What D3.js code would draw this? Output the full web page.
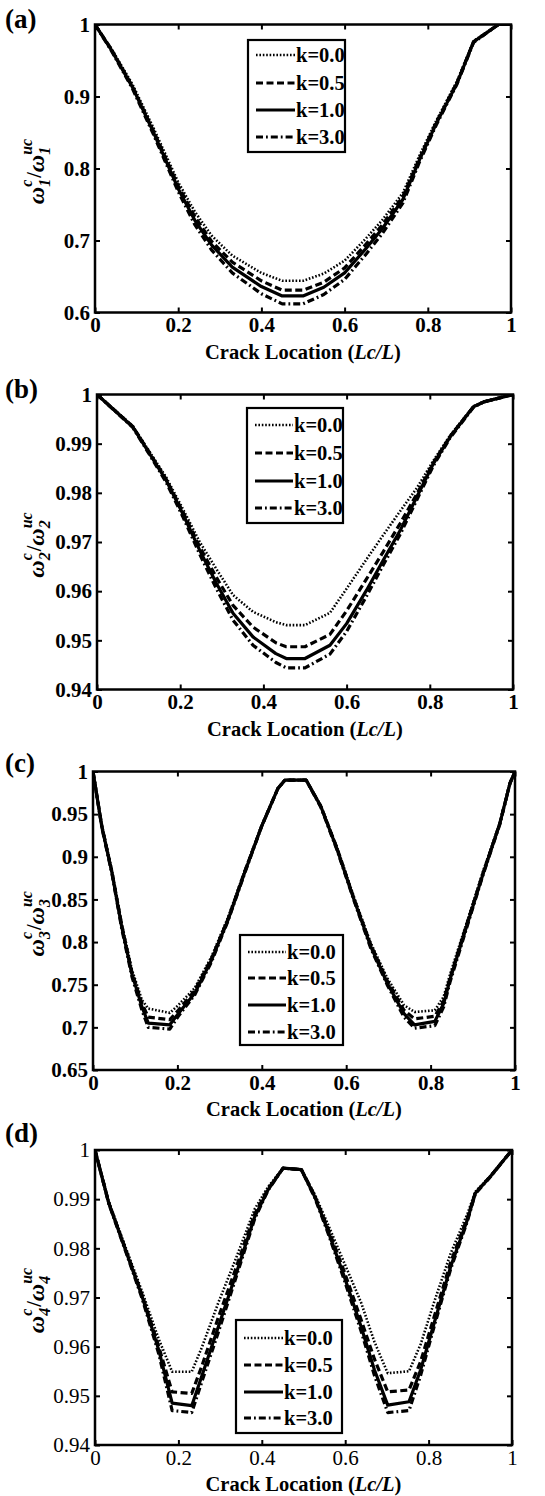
<!DOCTYPE html>
<html><head><meta charset="utf-8">
<script src="https://cdn.jsdelivr.net/npm/d3@7"></script>
<style>body{margin:0;background:#fff} svg{display:block}</style>
</head><body><svg id="c" width="545" height="1496"></svg>
<script>
// ---------------- DATA ----------------
const seriesLabels = ["k=0.0", "k=0.5", "k=1.0", "k=3.0"];
const xTickValues = [0, 0.2, 0.4, 0.6, 0.8, 1];
const xTickLabels = ["0", "0.2", "0.4", "0.6", "0.8", "1"];

// (a) first mode
const xA = [0, 0.04, 0.09, 0.14, 0.2, 0.24, 0.28, 0.33, 0.4, 0.45, 0.5, 0.55, 0.6, 0.65, 0.69, 0.74, 0.78, 0.82, 0.87, 0.91, 0.97, 1.0];
const aK00 = [1.0, 0.966, 0.917, 0.857, 0.781, 0.740, 0.707, 0.679, 0.655, 0.644, 0.644, 0.654, 0.672, 0.702, 0.728, 0.766, 0.818, 0.866, 0.921, 0.977, 1.0, 1.0];
const aK05 = [1.0, 0.965, 0.914, 0.853, 0.776, 0.733, 0.699, 0.670, 0.644, 0.631, 0.631, 0.642, 0.662, 0.694, 0.721, 0.761, 0.814, 0.864, 0.919, 0.976, 1.0, 1.0];
const aK10 = [1.0, 0.964, 0.913, 0.851, 0.772, 0.728, 0.694, 0.663, 0.636, 0.623, 0.623, 0.635, 0.655, 0.688, 0.716, 0.757, 0.812, 0.862, 0.918, 0.976, 1.0, 1.0];
const aK30 = [1.0, 0.963, 0.911, 0.848, 0.768, 0.722, 0.687, 0.655, 0.626, 0.612, 0.612, 0.625, 0.646, 0.680, 0.709, 0.752, 0.809, 0.860, 0.917, 0.975, 1.0, 1.0];
const yTicksA = [0.6, 0.7, 0.8, 0.9, 1];
const yTickLabelsA = ["0.6", "0.7", "0.8", "0.9", "1"];

// (b) second mode
const xB = [0, 0.046, 0.086, 0.126, 0.166, 0.206, 0.247, 0.287, 0.327, 0.375, 0.43, 0.455, 0.5, 0.56, 0.6, 0.648, 0.688, 0.729, 0.769, 0.809, 0.849, 0.905, 0.93, 1.0];
const bK00 = [1.0, 0.9966, 0.9936, 0.9884, 0.9832, 0.9768, 0.9700, 0.9645, 0.9592, 0.9558, 0.9537, 0.9531, 0.9531, 0.9556, 0.9605, 0.9665, 0.9714, 0.9763, 0.9810, 0.9866, 0.9917, 0.9976, 0.9986, 1.0];
const bK05 = [1.0, 0.9965, 0.9935, 0.9882, 0.9828, 0.9762, 0.9690, 0.9628, 0.9571, 0.9527, 0.9495, 0.9487, 0.9487, 0.9512, 0.9560, 0.9625, 0.9680, 0.9738, 0.9798, 0.9862, 0.9915, 0.9975, 0.9985, 1.0];
const bK10 = [1.0, 0.9965, 0.9934, 0.9880, 0.9826, 0.9758, 0.9683, 0.9616, 0.9555, 0.9507, 0.9473, 0.9463, 0.9463, 0.9490, 0.9534, 0.9602, 0.9663, 0.9724, 0.9792, 0.9860, 0.9914, 0.9975, 0.9985, 1.0];
const bK30 = [1.0, 0.9964, 0.9933, 0.9878, 0.9822, 0.9752, 0.9675, 0.9605, 0.9541, 0.9490, 0.9455, 0.9444, 0.9444, 0.9472, 0.9518, 0.9590, 0.9653, 0.9716, 0.9786, 0.9856, 0.9912, 0.9974, 0.9985, 1.0];
const yTicksB = [0.94, 0.95, 0.96, 0.97, 0.98, 0.99, 1];
const yTickLabelsB = ["0.94", "0.95", "0.96", "0.97", "0.98", "0.99", "1"];

// (c) third mode
const xC = [0, 0.021, 0.045, 0.068, 0.092, 0.116, 0.131, 0.182, 0.202, 0.241, 0.281, 0.32, 0.359, 0.399, 0.438, 0.455, 0.505, 0.54, 0.579, 0.619, 0.658, 0.697, 0.737, 0.762, 0.81, 0.831, 0.846, 0.885, 0.925, 0.964, 0.988, 1.0];
const cK00 = [1.0, 0.937, 0.884, 0.822, 0.768, 0.732, 0.722, 0.717, 0.726, 0.746, 0.783, 0.829, 0.883, 0.936, 0.980, 0.990, 0.990, 0.960, 0.910, 0.852, 0.799, 0.758, 0.726, 0.718, 0.720, 0.736, 0.762, 0.822, 0.884, 0.940, 0.986, 1.0];
const cK05 = [1.0, 0.936, 0.882, 0.820, 0.765, 0.728, 0.712, 0.709, 0.720, 0.743, 0.781, 0.827, 0.882, 0.935, 0.980, 0.990, 0.990, 0.959, 0.909, 0.850, 0.797, 0.755, 0.720, 0.710, 0.713, 0.731, 0.758, 0.820, 0.882, 0.939, 0.986, 1.0];
const cK10 = [1.0, 0.935, 0.881, 0.818, 0.763, 0.724, 0.705, 0.703, 0.716, 0.740, 0.779, 0.826, 0.881, 0.935, 0.980, 0.990, 0.990, 0.959, 0.908, 0.849, 0.795, 0.752, 0.716, 0.703, 0.707, 0.728, 0.756, 0.818, 0.881, 0.939, 0.986, 1.0];
const cK30 = [1.0, 0.934, 0.880, 0.816, 0.760, 0.720, 0.700, 0.698, 0.713, 0.738, 0.777, 0.825, 0.880, 0.935, 0.980, 0.990, 0.990, 0.958, 0.907, 0.848, 0.793, 0.750, 0.712, 0.699, 0.702, 0.724, 0.753, 0.816, 0.880, 0.938, 0.986, 1.0];
const yTicksC = [0.65, 0.7, 0.75, 0.8, 0.85, 0.9, 0.95, 1];
const yTickLabelsC = ["0.65", "0.7", "0.75", "0.8", "0.85", "0.9", "0.95", "1"];

// (d) fourth mode
const xD = [0, 0.033, 0.073, 0.113, 0.153, 0.185, 0.232, 0.256, 0.296, 0.336, 0.383, 0.415, 0.451, 0.495, 0.527, 0.558, 0.598, 0.638, 0.67, 0.702, 0.753, 0.781, 0.813, 0.853, 0.893, 0.912, 0.948, 1.0];
const dK00 = [1.0, 0.9895, 0.9803, 0.9712, 0.9615, 0.9549, 0.9549, 0.9598, 0.9690, 0.9775, 0.9880, 0.9925, 0.9963, 0.9960, 0.9910, 0.9850, 0.9770, 0.9690, 0.9610, 0.9546, 0.9550, 0.9605, 0.9690, 0.9790, 0.9870, 0.9915, 0.9947, 1.0];
const dK05 = [1.0, 0.9893, 0.9799, 0.9705, 0.9600, 0.9508, 0.9505, 0.9560, 0.9660, 0.9755, 0.9870, 0.9921, 0.9963, 0.9960, 0.9907, 0.9842, 0.9752, 0.9655, 0.9575, 0.9508, 0.9512, 0.9570, 0.9660, 0.9772, 0.9862, 0.9913, 0.9946, 1.0];
const dK10 = [1.0, 0.9892, 0.9797, 0.9702, 0.9593, 0.9485, 0.9480, 0.9540, 0.9641, 0.9742, 0.9864, 0.9919, 0.9963, 0.9960, 0.9905, 0.9837, 0.9742, 0.9641, 0.9553, 0.9481, 0.9488, 0.9553, 0.9647, 0.9763, 0.9858, 0.9912, 0.9946, 1.0];
const dK30 = [1.0, 0.9891, 0.9795, 0.9698, 0.9585, 0.9470, 0.9466, 0.9528, 0.9630, 0.9735, 0.9860, 0.9918, 0.9963, 0.9960, 0.9903, 0.9833, 0.9735, 0.9632, 0.9542, 0.9466, 0.9470, 0.9542, 0.9640, 0.9758, 0.9855, 0.9911, 0.9945, 1.0];
const yTicksD = [0.94, 0.95, 0.96, 0.97, 0.98, 0.99, 1];
const yTickLabelsD = ["0.94", "0.95", "0.96", "0.97", "0.98", "0.99", "1"];

// ---------------- DRAWING ----------------
const svg = d3.select("#c");
const SERIF = "'Liberation Serif','Times New Roman',serif";
const lineStyles = [
  {dash: "1.6,1.8", width: 2.6},
  {dash: "7,3.5", width: 3.2},
  {dash: null, width: 3.2},
  {dash: "7,3,1.8,3", width: 3.2}
];

const panels = [
  {tag: "(a)", mode: "1", x: xA, ys: [aK00, aK05, aK10, aK30], dom: [0.6, 1], yt: yTicksA, ytl: yTickLabelsA,
   L: 95, R: 511, T: 24.5, B: 312.5, tagY: 28, boldTicks: true,
   leg: {x: 248, y: 40, w: 97, h: 112, ly0: 256, ly1: 295, tx: 296, rows: [55, 83, 110, 137]}},
  {tag: "(b)", mode: "2", x: xB, ys: [bK00, bK05, bK10, bK30], dom: [0.94, 1], yt: yTicksB, ytl: yTickLabelsB,
   L: 97, R: 513, T: 394.5, B: 689.5, tagY: 398, boldTicks: true,
   leg: {x: 247, y: 408, w: 96, h: 115, ly0: 255, ly1: 293, tx: 294, rows: [425, 453, 481, 508]}},
  {tag: "(c)", mode: "3", x: xC, ys: [cK00, cK05, cK10, cK30], dom: [0.65, 1], yt: yTicksC, ytl: yTickLabelsC,
   L: 93, R: 515, T: 771.5, B: 1070, tagY: 772, boldTicks: true,
   leg: {x: 240, y: 935, w: 103, h: 110, ly0: 248, ly1: 286, tx: 287, rows: [952, 978, 1005, 1032]}},
  {tag: "(d)", mode: "4", x: xD, ys: [dK00, dK05, dK10, dK30], dom: [0.94, 1], yt: yTicksD, ytl: yTickLabelsD,
   L: 95, R: 512, T: 1150, B: 1445, tagY: 1142, boldTicks: false,
   leg: {x: 236, y: 1320, w: 106, h: 113, ly0: 244, ly1: 283, tx: 284, rows: [1338, 1365, 1392, 1418]}}
];

panels.forEach((p, pi) => {
  const xs = d3.scaleLinear().domain([0, 1]).range([p.L, p.R]);
  const ys = d3.scaleLinear().domain(p.dom).range([p.B, p.T]);
  const g = svg.append("g");
  const clipId = "clip" + pi;
  svg.append("clipPath").attr("id", clipId).append("rect")
    .attr("x", p.L).attr("y", p.T).attr("width", p.R - p.L).attr("height", p.B - p.T);

  // curves
  const line = d3.line().x(d => xs(d[0])).y(d => ys(d[1]));
  const cg = g.append("g").attr("clip-path", `url(#${clipId})`);
  p.ys.forEach((arr, si) => {
    const pts = p.x.map((xv, i) => [xv, arr[i]]);
    cg.append("path").attr("d", line(pts)).attr("fill", "none")
      .attr("stroke", "#000").attr("stroke-width", lineStyles[si].width)
      .attr("stroke-dasharray", lineStyles[si].dash)
      .attr("stroke-linejoin", "round");
  });

  // axes (inward ticks, mirrored)
  const tl = 5;
  const fw = p.boldTicks ? "bold" : "normal";
  const axB = d3.axisBottom(xs).tickValues(xTickValues).tickSize(-tl).tickFormat((d, i) => xTickLabels[i]).tickPadding(5);
  const gb = g.append("g").attr("transform", `translate(0,${p.B})`).call(axB);
  const axT = d3.axisTop(xs).tickValues(xTickValues).tickSize(-tl).tickFormat("");
  const gt = g.append("g").attr("transform", `translate(0,${p.T})`).call(axT);
  const axL = d3.axisLeft(ys).tickValues(p.yt).tickSize(-tl).tickFormat((d, i) => p.ytl[i]).tickPadding(5);
  const gl = g.append("g").attr("transform", `translate(${p.L},0)`).call(axL);
  const axR = d3.axisRight(ys).tickValues(p.yt).tickSize(-tl).tickFormat("");
  const gr = g.append("g").attr("transform", `translate(${p.R},0)`).call(axR);
  [gb, gt, gl, gr].forEach(a => {
    a.select(".domain").remove();
    a.selectAll(".tick line").attr("stroke", "#000").attr("stroke-width", 2);
    a.selectAll(".tick text").attr("fill", "#000").style("font-family", SERIF)
      .style("font-size", "21px").style("font-weight", fw);
  });
  gb.selectAll(".tick text").attr("dy", "0.71em");

  // frame
  g.append("rect").attr("x", p.L).attr("y", p.T).attr("width", p.R - p.L).attr("height", p.B - p.T)
    .attr("fill", "none").attr("stroke", "#000").attr("stroke-width", 2.5);

  // panel tag
  g.append("text").attr("x", 5).attr("y", p.tagY).text(p.tag)
    .style("font-family", SERIF).style("font-size", "27px").style("font-weight", "bold");

  // x label
  const xl = g.append("text").attr("x", (p.L + p.R) / 2).attr("y", p.B + 46).attr("text-anchor", "middle")
    .style("font-family", SERIF).style("font-size", "20.5px").style("font-weight", "bold");
  xl.append("tspan").text("Crack Location (");
  xl.append("tspan").style("font-style", "italic").text("Lc/L");
  xl.append("tspan").text(")");

  // y label (rotated)
  const yg = g.append("g").attr("transform", `translate(44,${(p.T + p.B) / 2 + 3}) rotate(-90)`);
  const inner = yg.append("g");
  let cx = 0;
  const putText = (txt, size, dy, italic, bold) => {
    const t = inner.append("text").attr("x", cx).attr("y", dy).text(txt)
      .style("font-family", SERIF).style("font-size", size + "px")
      .style("font-style", italic ? "italic" : "normal").style("font-weight", bold ? "bold" : "normal");
    return t.node().getComputedTextLength();
  };
  cx += putText("\u03C9", 24, 0, true, true);
  let w1 = putText("c", 16, -12, true, true);
  let w2 = putText(p.mode, 16, 6, true, true);
  cx += Math.max(w1, w2) + 1;
  cx += putText("/", 20, -3, false, true);
  cx += putText("\u03C9", 24, 0, true, true);
  w1 = putText("uc", 16, -12, true, true);
  w2 = putText(p.mode, 16, 6, true, true);
  cx += Math.max(w1, w2);
  inner.attr("transform", `translate(${-cx / 2},0)`);

  // legend
  const lg = g.append("g");
  const L = p.leg;
  lg.append("rect").attr("x", L.x).attr("y", L.y).attr("width", L.w).attr("height", L.h)
    .attr("fill", "#fff").attr("stroke", "#000").attr("stroke-width", 2.2);
  seriesLabels.forEach((lab, si) => {
    const yy = L.rows[si];
    lg.append("line").attr("x1", L.ly0).attr("x2", L.ly1).attr("y1", yy).attr("y2", yy)
      .attr("stroke", "#000").attr("stroke-width", lineStyles[si].width)
      .attr("stroke-dasharray", lineStyles[si].dash);
    lg.append("text").attr("x", L.tx).attr("y", yy + 7).text(lab)
      .style("font-family", SERIF).style("font-size", "20.5px").style("font-weight", "bold");
  });
});
</script></body></html>
